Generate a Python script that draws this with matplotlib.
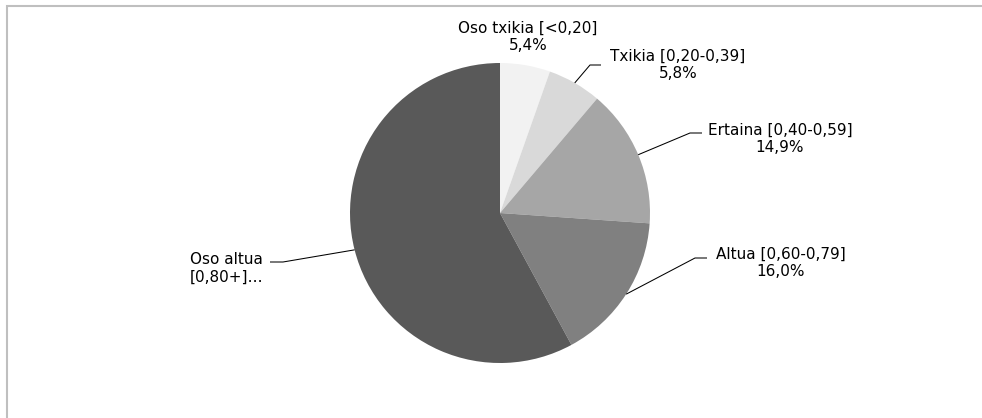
import numpy as np
import matplotlib
matplotlib.use("Agg")
import matplotlib.pyplot as plt

plt.rcParams["font.family"] = ["DejaVu Sans"]

# data
categories = ["Oso txikia [<0,20]", "Txikia [0,20-0,39]", "Ertaina [0,40-0,59]",
              "Altua [0,60-0,79]", "Oso altua\n[0,80+]…"]
shares = [5.4, 5.8, 14.9, 16.0, 57.9]
colors = ["#F2F2F2", "#D9D9D9", "#A6A6A6", "#808080", "#595959"]
show_pct = [True, True, True, True, False]

W, H = 982, 418
fig = plt.figure(figsize=(W / 100, H / 100), dpi=100)
ax = fig.add_axes([0, 0, 1, 1])

cx, cy, r = 500, H - 213, 150
wedges, _ = ax.pie(shares, colors=colors, startangle=90, counterclock=False,
                   center=(cx, cy), radius=r, frame=True,
                   wedgeprops=dict(linewidth=0))
ax.set_xlim(0, W)
ax.set_ylim(0, H)
ax.set_aspect("equal")
ax.axis("off")

# label placement (pixel coords, y from top): text anchor, alignment, elbow points
layout = [
    dict(text=(528, 37), ha="center", elbow=None),
    dict(text=(678, 65), ha="center", elbow=[(590, 65), (601, 65)]),
    dict(text=(780, 139), ha="center", elbow=[(690, 133), (702, 133)]),
    dict(text=(781, 263), ha="center", elbow=[(695, 258), (707, 258)]),
    dict(text=(190, 268), ha="left", elbow=[(283, 262), (270, 262)]),
]

for w, cat, val, pct, lay in zip(wedges, categories, shares, show_pct, layout):
    label = cat + ("\n" + f"{val:.1f}".replace(".", ",") + "%" if pct else "")
    tx, ty = lay["text"]
    ax.text(tx, H - ty, label, ha=lay["ha"], va="center", fontsize=11,
            color="#000000", linespacing=1.25, multialignment=lay["ha"])
    if lay["elbow"] is not None:
        mid = np.deg2rad((w.theta1 + w.theta2) / 2)
        ex, ey = cx + r * np.cos(mid), cy + r * np.sin(mid)
        xs = [ex] + [p[0] for p in lay["elbow"]]
        ys = [ey] + [H - p[1] for p in lay["elbow"]]
        ax.plot(xs, ys, color="#000000", lw=0.75, solid_capstyle="butt")

# chart area border (only top and left visible)
ax.plot([7.5, 7.5, W + 5], [-5, H - 5.5, H - 5.5], color="#BFBFBF", lw=1.5,
        solid_joinstyle="miter", clip_on=False)

fig.savefig("out.png", dpi=100)
